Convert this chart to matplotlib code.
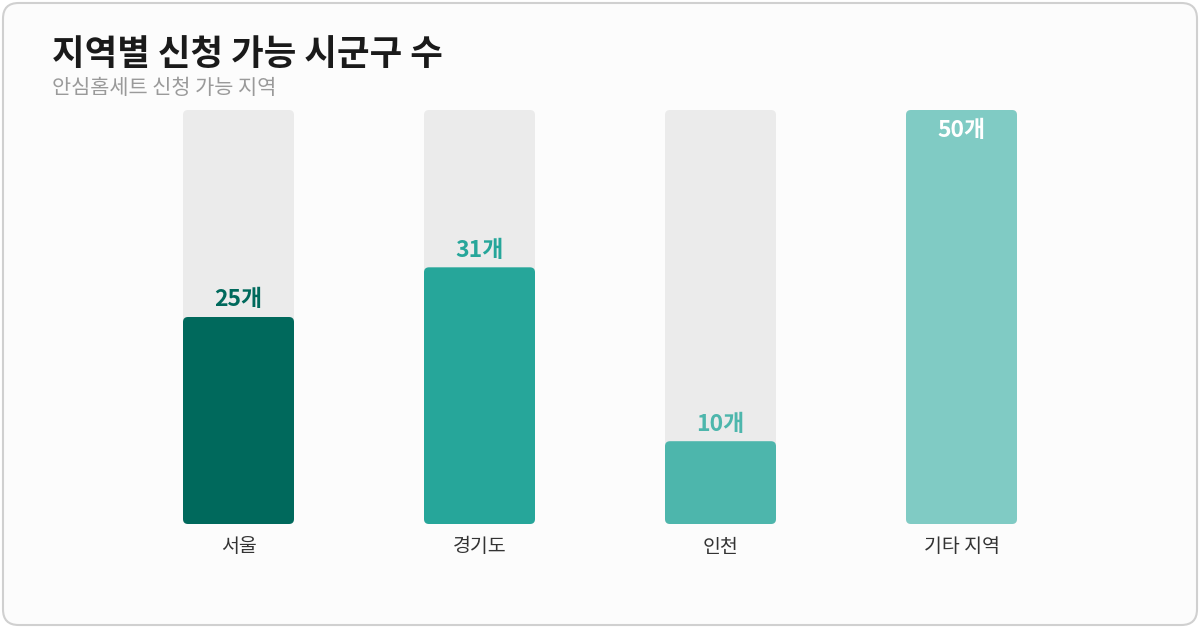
import matplotlib
matplotlib.use("Agg")
import matplotlib.pyplot as plt
from matplotlib.patches import FancyBboxPatch

plt.rcParams['font.family'] = ['Noto Sans CJK KR', 'DejaVu Sans']

categories = ["서울", "경기도", "인천", "기타 지역"]
values = [25, 31, 10, 50]
value_labels = ["25개", "31개", "10개", "50개"]
max_value = 50
bar_colors = ["#00695C", "#26A69A", "#4DB6AC", "#80CBC4"]
label_colors = ["#00695C", "#26A69A", "#4DB6AC", "#FFFFFF"]

W, H = 1200, 628
fig = plt.figure(figsize=(W / 100, H / 100), dpi=100)
fig.patch.set_facecolor("white")

# card background
card = FancyBboxPatch((3 / W, 3 / H), 1194 / W, 622 / H,
                      boxstyle="round,pad=0,rounding_size=0.013",
                      mutation_aspect=W / H,
                      transform=fig.transFigure, facecolor="#FCFCFC",
                      edgecolor="#D0D0D0", linewidth=1.5, zorder=-10)
fig.patches.append(card)

fig.text(52 / W, 1 - 55 / H, "지역별 신청 가능 시군구 수", fontsize=25.5, fontweight="bold",
         color="#1A1A1A", va="center", ha="left")
fig.text(52 / W, 1 - 88 / H, "안심홈세트 신청 가능 지역", fontsize=15,
         color="#9A9A9A", va="center", ha="left")

ax_left = 118 / W
ax_w = 964 / W
ax_bottom = (H - 524) / H
ax_h = 414 / H
ax = fig.add_axes([ax_left, ax_bottom, ax_w, ax_h], zorder=5)
ax.set_xlim(-0.5, len(categories) - 0.5)
ax.set_ylim(0, max_value)
ax.axis("off")

bw = 111 / 241
px_x = 1 / 241
px_y = max_value / 414
r = 5
for i, (v, c, lc, lab) in enumerate(zip(values, bar_colors, label_colors, value_labels)):
    bg = FancyBboxPatch((i - bw / 2, 0), bw, max_value,
                        boxstyle=f"round,pad=0,rounding_size={r * px_x}",
                        mutation_aspect=px_y / px_x,
                        facecolor="#EBEBEB", edgecolor="none", zorder=1)
    ax.add_patch(bg)
    fg = FancyBboxPatch((i - bw / 2, 0), bw, v,
                        boxstyle=f"round,pad=0,rounding_size={r * px_x}",
                        mutation_aspect=px_y / px_x,
                        facecolor=c, edgecolor="none", zorder=2)
    ax.add_patch(fg)
    if v >= max_value * 0.9:
        ax.text(i, v - 20 * px_y, lab, ha="center", va="center", fontsize=16.5,
                fontweight="bold", color=lc, zorder=3)
    else:
        ax.text(i, v + 17 * px_y, lab, ha="center", va="center", fontsize=16.5,
                fontweight="bold", color=lc, zorder=3)
    ax.text(i, -23 * px_y, categories[i], ha="center", va="center", fontsize=14,
            color="#333333", zorder=3, clip_on=False)

fig.savefig("out.png", dpi=100, facecolor="white")
